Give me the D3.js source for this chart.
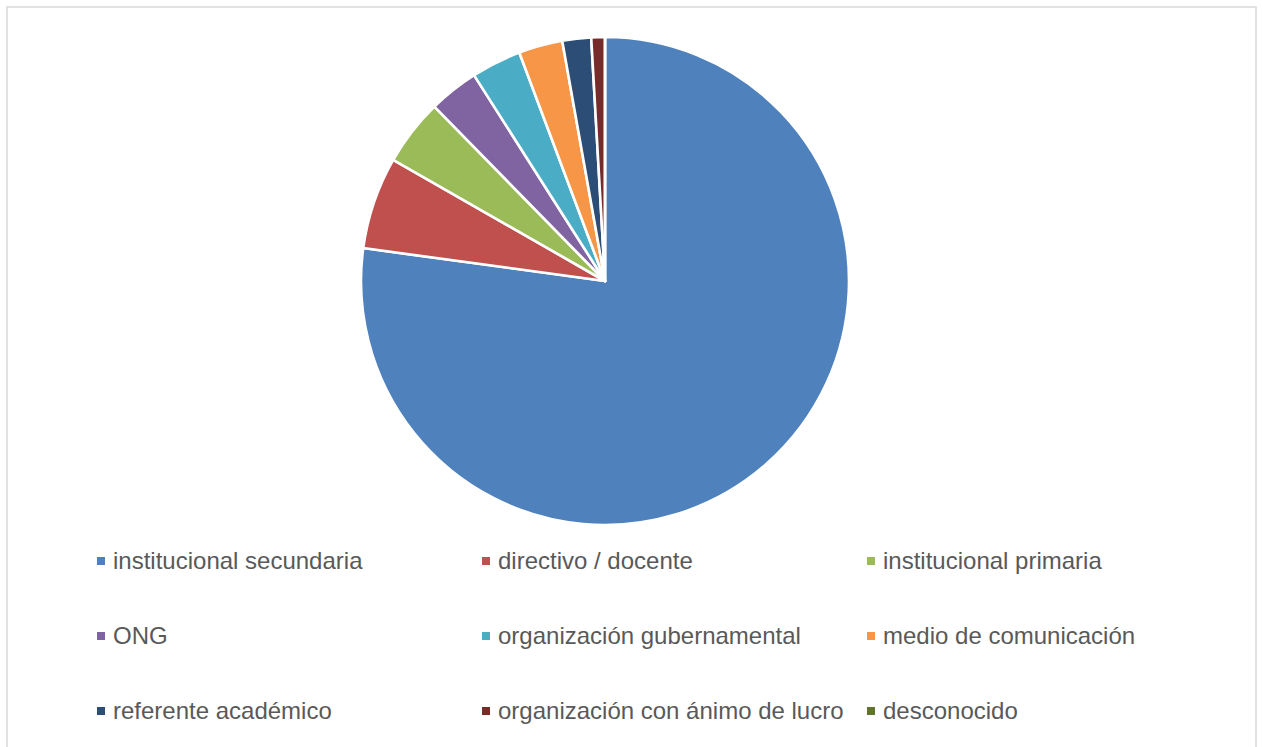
<!DOCTYPE html>
<html>
<head>
<meta charset="utf-8">
<script src="https://cdn.jsdelivr.net/npm/d3@7"></script>
<style>
  html, body { margin: 0; padding: 0; background: #ffffff; }
  svg { display: block; }
</style>
</head>
<body>
<svg id="chart" width="1263" height="747"></svg>
<script>
// Categories and their share (%) of the total
const categories = [
  "institucional secundaria",
  "directivo / docente",
  "institucional primaria",
  "ONG",
  "organización gubernamental",
  "medio de comunicación",
  "referente académico",
  "organización con ánimo de lucro",
  "desconocido"
];
const values = [77.0, 6.1, 4.4, 3.3, 3.3, 2.9, 1.9, 0.9, 0.0];
const colors = ["#4F81BD", "#C0504D", "#9BBB59", "#8064A2", "#4BACC6",
                "#F79646", "#2C4D75", "#772C2A", "#5F7530"];

const svg = d3.select("#chart");
const W = 1263, H = 747;

// chart area frame
svg.append("rect")
  .attr("x", 7).attr("y", 7)
  .attr("width", 1249).attr("height", H)
  .attr("fill", "#ffffff")
  .attr("stroke", "#d9d9d9")
  .attr("stroke-width", 1.5);

const data = categories.map((c, i) => ({ name: c, value: values[i], color: colors[i] }));

const cx = 605, cy = 281, r = 244;

const pie = d3.pie()
  .value(d => d.value)
  .sort(null)
  .startAngle(0)
  .endAngle(2 * Math.PI);

const arc = d3.arc().innerRadius(0).outerRadius(r);

const g = svg.append("g").attr("transform", `translate(${cx},${cy})`);
g.selectAll("path")
  .data(pie(data))
  .join("path")
  .attr("d", arc)
  .attr("fill", d => d.data.color)
  .attr("stroke", "#ffffff")
  .attr("stroke-width", 2.6)
  .attr("stroke-linejoin", "round");

// legend: 3 columns x 3 rows
const colX = d3.scaleLinear().domain([0, 1]).range([97, 482]);
const rowY = d3.scaleLinear().domain([0, 1]).range([561, 636]);

const legend = svg.append("g");
const items = legend.selectAll("g")
  .data(data)
  .join("g")
  .attr("transform", (d, i) => `translate(${colX(i % 3)},${rowY(Math.floor(i / 3))})`);

items.append("rect")
  .attr("x", 0).attr("y", -4)
  .attr("width", 8).attr("height", 8)
  .attr("fill", d => d.color);

items.append("text")
  .attr("x", 16).attr("y", 0)
  .attr("dy", "0.35em")
  .attr("font-family", "'Liberation Sans', Arial, sans-serif")
  .attr("font-size", 24)
  .attr("fill", "#595959")
  .text(d => d.name);
</script>
</body>
</html>
